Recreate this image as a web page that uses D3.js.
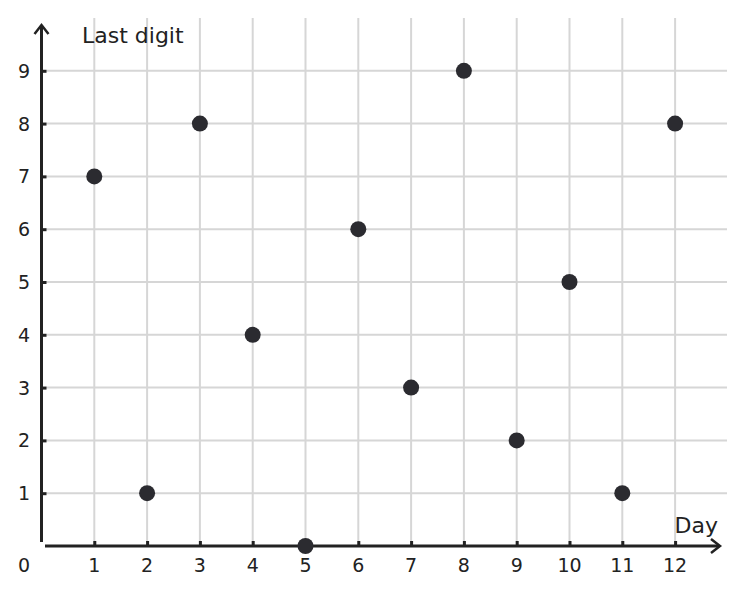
<!DOCTYPE html>
<html>
<head>
<meta charset="utf-8">
<script src="https://cdn.jsdelivr.net/npm/d3@7"></script>
<style>
  body { margin: 0; background: #fff; }
  text { font-family: "DejaVu Sans", sans-serif; fill: #222; }
</style>
</head>
<body>
<div id="chart"></div>
<script>
// chart data
const days = [1, 2, 3, 4, 5, 6, 7, 8, 9, 10, 11, 12];
const lastDigits = [7, 1, 8, 4, 0, 6, 3, 9, 2, 5, 1, 8];
const xTicks = [1, 2, 3, 4, 5, 6, 7, 8, 9, 10, 11, 12];
const yTicks = [1, 2, 3, 4, 5, 6, 7, 8, 9];

const W = 745, H = 594;
const ink = "#222", gridCol = "#d6d6d6", dotCol = "#2b2b30";

const x = d3.scaleLinear().domain([0, 1]).range([41.5, 94.3]);
const y = d3.scaleLinear().domain([0, 1]).range([546, 493.2]);

const svg = d3.select("#chart").append("svg")
    .attr("width", W)
    .attr("height", H);

// grid
svg.append("g").selectAll("line").data(xTicks).join("line")
    .attr("x1", d => x(d)).attr("x2", d => x(d))
    .attr("y1", 18).attr("y2", y(0))
    .attr("stroke", gridCol).attr("stroke-width", 2);

svg.append("g").selectAll("line").data(yTicks).join("line")
    .attr("x1", x(0)).attr("x2", 727)
    .attr("y1", d => y(d)).attr("y2", d => y(d))
    .attr("stroke", gridCol).attr("stroke-width", 2);

// x axis (ticks point up into the plot)
const xAxis = svg.append("g")
    .attr("transform", "translate(0," + y(0) + ")")
    .call(d3.axisTop(x).tickValues(xTicks).tickSize(5).tickSizeOuter(0));
xAxis.select(".domain").remove();
xAxis.selectAll(".tick line").attr("stroke", ink).attr("stroke-width", 3);
xAxis.selectAll(".tick text").remove();

svg.append("g").selectAll("text").data(xTicks).join("text")
    .attr("x", d => x(d)).attr("y", y(0) + 26)
    .attr("text-anchor", "middle")
    .style("font-size", "19px")
    .text(d => d);

// y axis (ticks point right into the plot)
const yAxis = svg.append("g")
    .attr("transform", "translate(" + x(0) + ",0)")
    .call(d3.axisRight(y).tickValues(yTicks).tickSize(5).tickSizeOuter(0));
yAxis.select(".domain").remove();
yAxis.selectAll(".tick line").attr("stroke", ink).attr("stroke-width", 3);
yAxis.selectAll(".tick text").remove();

svg.append("g").selectAll("text").data(yTicks).join("text")
    .attr("x", 30).attr("y", d => y(d) + 7)
    .attr("text-anchor", "end")
    .style("font-size", "19px")
    .text(d => d);

svg.append("text")
    .attr("x", 24).attr("y", y(0) + 26)
    .attr("text-anchor", "middle")
    .style("font-size", "19px")
    .text("0");

// axis lines with arrows
svg.append("line")
    .attr("x1", 45).attr("x2", 719)
    .attr("y1", y(0)).attr("y2", y(0))
    .attr("stroke", ink).attr("stroke-width", 3);
svg.append("path")
    .attr("d", `M${711},${y(0) - 7} L${720},${y(0)} L${711},${y(0) + 7}`)
    .attr("fill", "none").attr("stroke", ink).attr("stroke-width", 2.5);

svg.append("line")
    .attr("x1", x(0)).attr("x2", x(0))
    .attr("y1", 26).attr("y2", 542)
    .attr("stroke", ink).attr("stroke-width", 3);
svg.append("path")
    .attr("d", `M${x(0) - 7},${34} L${x(0)},${25} L${x(0) + 7},${34}`)
    .attr("fill", "none").attr("stroke", ink).attr("stroke-width", 2.5);

// axis titles
svg.append("text")
    .attr("x", 82).attr("y", 43)
    .style("font-size", "22px")
    .text("Last digit");

svg.append("text")
    .attr("x", 718).attr("y", 533)
    .attr("text-anchor", "end")
    .style("font-size", "22px")
    .text("Day");

// points
svg.append("g").selectAll("circle").data(days).join("circle")
    .attr("cx", d => x(d))
    .attr("cy", (d, i) => y(lastDigits[i]))
    .attr("r", 8)
    .attr("fill", dotCol);
</script>
</body>
</html>
